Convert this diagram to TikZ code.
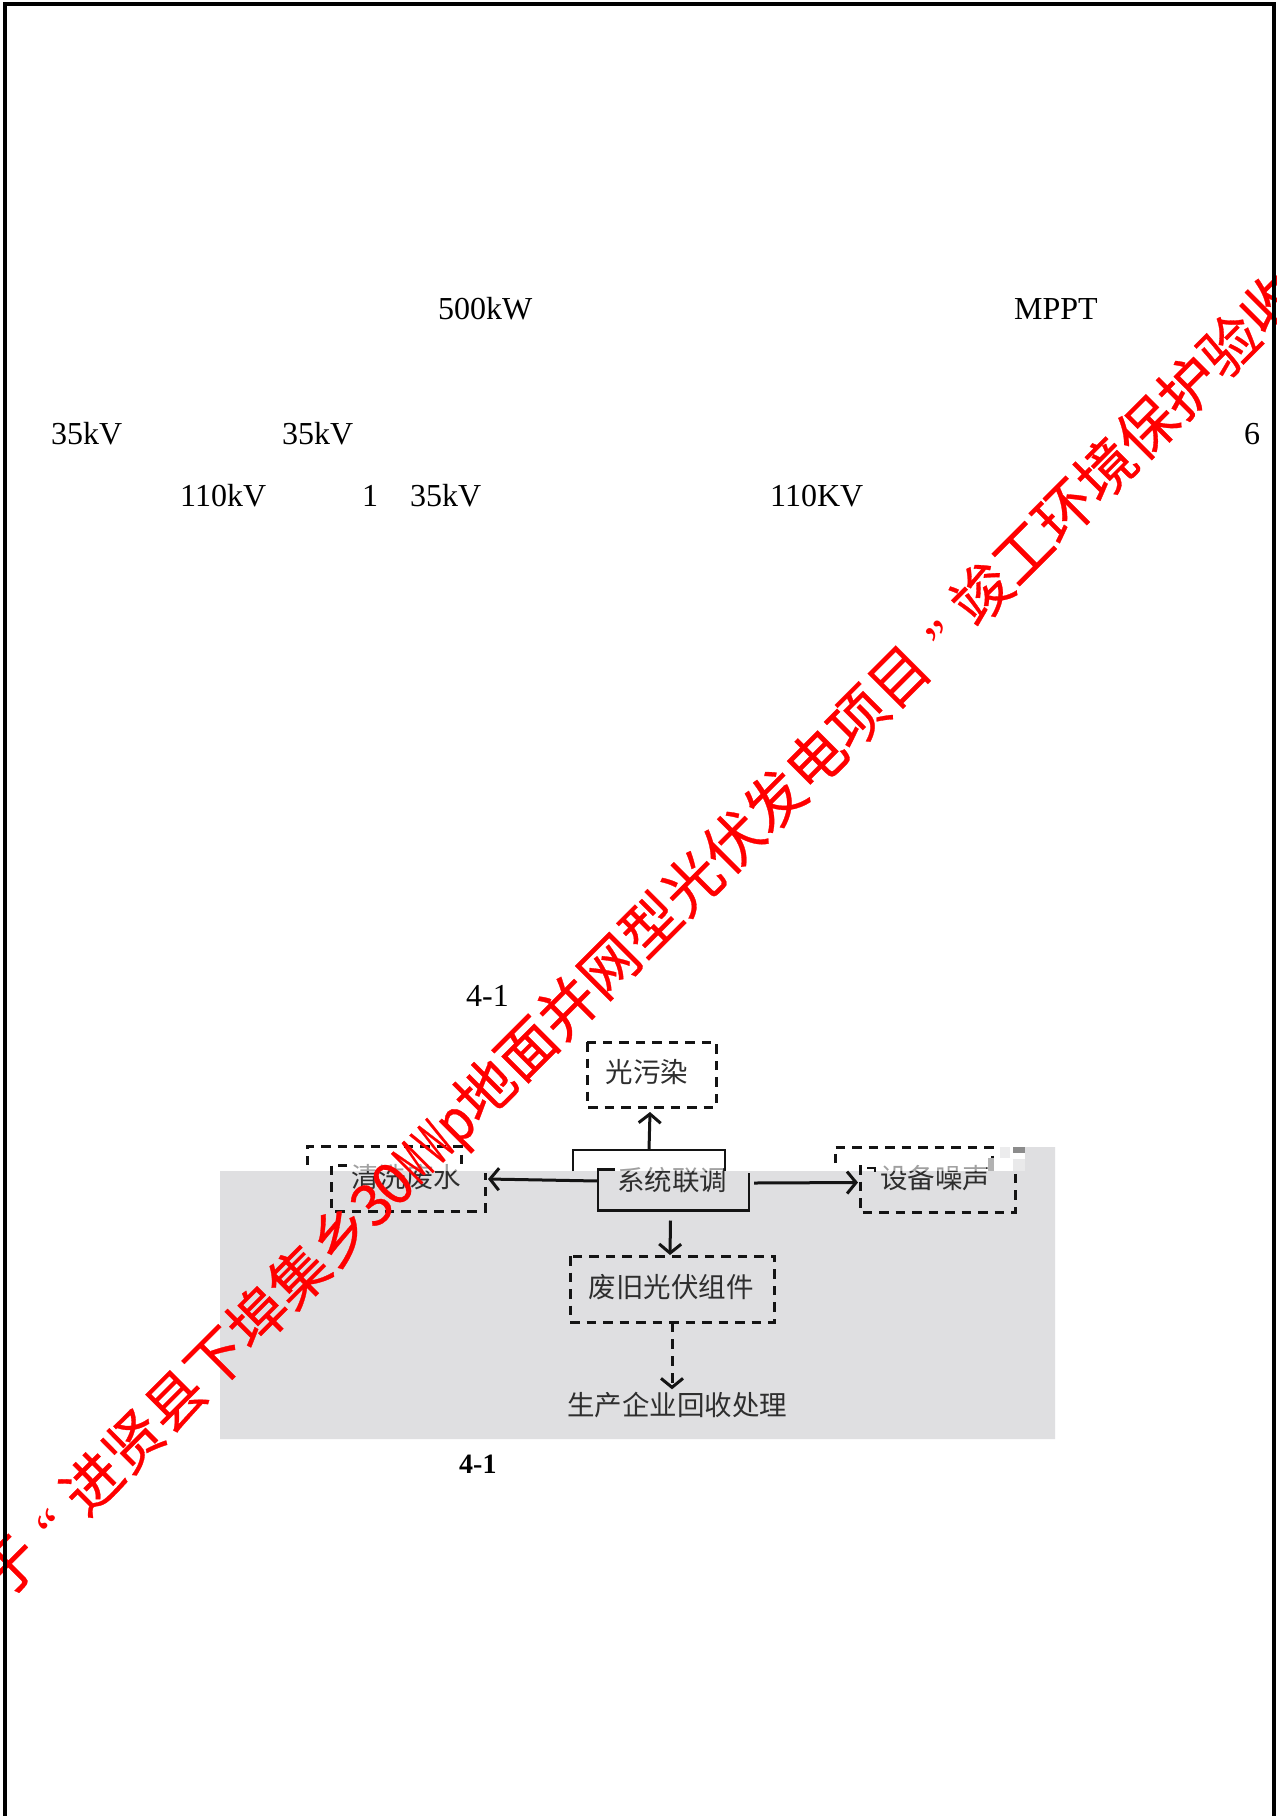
\documentclass[tikz,border=0pt]{standalone}
\usepackage{fontspec}
\setmainfont{Liberation Serif}
\newfontfamily\cjk{Noto Sans CJK SC}
\newfontfamily\cjkwm[FakeBold=0.5]{Noto Sans CJK SC}
\usetikzlibrary{arrows.meta,calc}
\definecolor{panelgray}{HTML}{DFDFE1}
\definecolor{inkgray}{HTML}{2E2E2E}
\definecolor{linkblack}{HTML}{141414}
\newcommand{\hw}[2][0.52]{\makebox[.5em][c]{\scalebox{#1}[1]{#2}}}
\newcommand{\qm}[1]{\makebox[1em][c]{\rmfamily\fontsize{52}{58}\selectfont #1}}
\tikzset{
  x=1pt,y=-1pt,
  page/.style={anchor=base west,inner sep=0pt,font=\fontsize{32}{36}\selectfont,text=black},
  capbold/.style={anchor=base west,inner sep=0pt,font=\bfseries\fontsize{28}{32}\selectfont,text=black},
  label/.style={inner sep=0pt,font=\cjk\fontsize{27.5}{30}\selectfont,text=inkgray},
  frameline/.style={line width=4.5pt,draw=black,line cap=butt,line join=miter},
  dashline/.style={line width=3pt,draw=linkblack,dash pattern=on 9.5pt off 7pt},
  solidline/.style={line width=2.8pt,draw=linkblack},
  holder/.style={inner sep=0pt,outer sep=0pt,draw=none},
  arr/.style={line width=3pt,draw=linkblack,-{Straight Barb[length=9pt,width=22pt,line width=3pt]}},
  dasharr/.style={arr,dash pattern=on 10pt off 7pt},
  wm/.style={anchor=west,inner sep=0pt,rotate=45,text=red,font=\cjkwm\fontsize{58.5}{62}\selectfont},
}
\begin{document}
\begin{tikzpicture}
\useasboundingbox (0,0) rectangle (1277,1816);
\fill[white] (0,0) rectangle (1277,1816);
% grey panel
\fill[panelgray] (220,1171) -- (1025,1171) -- (1025,1147) -- (1055,1147) -- (1055,1439) -- (220,1439) -- cycle;
\fill[panelgray!60!white] (1000,1147) rectangle (1010,1158);
\fill[black!45] (1013,1147) rectangle (1025,1153);
\fill[panelgray!70!white] (1013,1159) rectangle (1025,1171);
\fill[black!30] (988,1158) rectangle (994,1171);
% page text
\node[page] (t1) at (438,319) {500kW};
\node[page] (t2) at (1014,319) {MPPT};
\node[page] (t3) at (51,444) {35kV};
\node[page] (t4) at (282,444) {35kV};
\node[page] (t5) at (1244,444) {6};
\node[page] (t6) at (180,506) {110kV};
\node[page] (t7) at (362,506) {1};
\node[page] (t8) at (410,506) {35kV};
\node[page] (t9) at (770,506) {110KV};
\node[page] (t10) at (466,1006) {4-1};
\node[capbold] (cap) at (459,1473) {4-1};
% box holders
\node[holder,minimum width=129pt,minimum height=65pt] (light) at (651.5,1074.5) {};
\node[holder,minimum width=152pt,minimum height=21pt] (sysback) at (649,1160.5) {};
\node[holder,minimum width=151pt,minimum height=41pt] (sys) at (673.5,1190) {};
\node[holder,minimum width=154pt,minimum height=25pt] (washback) at (384,1158.5) {};
\node[holder,minimum width=154pt,minimum height=46pt] (wash) at (408,1188) {};
\node[holder,minimum width=157pt,minimum height=24pt] (noiseback) at (913.5,1159) {};
\node[holder,minimum width=155pt,minimum height=47pt] (noise) at (937.5,1188.5) {};
\node[holder,minimum width=204pt,minimum height=66pt] (waste) at (672,1289) {};
% labels
\node[label] (lightt) at (647,1072) {光污染};
\node[label] (syst) at (672,1180) {系统联调};
\node[label] (washt) at (406,1177) {清洗废水};
\node[label] (noiset) at (935,1178) {设备噪声};
\node[label] (wastet) at (671,1287) {废旧光伏组件};
\node[label,minimum width=216pt,minimum height=27pt] (recycle) at (677,1405) {生产企业回收处理};
% the tops of three labels fade out where the upper image layer covers them
\fill[white,opacity=.55] (350,1160) rectangle (459,1171);
\fill[white,opacity=.55] (616,1160) rectangle (723,1171);
\fill[white,opacity=.55] (880,1160) rectangle (986,1171);
% boxes
\draw[dashline] (light.north west) rectangle (light.south east);
\draw[dashline] (waste.north west) rectangle (waste.south east);
\draw[solidline] (sysback.south west) -- (sysback.north west) -- (sysback.north east) -- (sysback.south east);
\draw[solidline] ($(sys.north west)+(17,0)$) -- (sys.north west) -- (sys.south west) -- (sys.south east) -- ($(sys.north east)+(0,3)$);
\draw[dashline] ($(washback.south west)+(0,-6)$) -- (washback.north west) -- (washback.north east) -- (washback.south east);
\draw[dashline] ($(wash.north west)+(16,0)$) -- (wash.north west) -- (wash.south west) -- (wash.south east) -- ($(wash.north east)+(0,8)$);
\draw[dashline] ($(noiseback.south west)+(0,-8)$) -- (noiseback.north west) -- (noiseback.north east) -- ($(noiseback.south east)+(0,-13)$);
\draw[dashline] (noise.north west) -- (noise.south west) -- (noise.south east) -- ($(noise.north east)+(0,7)$);
\draw[line width=1.6pt,draw=linkblack] (867,1168) -- (875,1168) -- (875,1172);
% connectors
\draw[arr] (sysback.north) -- ($(light.south)+(-1.5,5)$);
\draw[arr] ($(sys.west)+(0,-9)$) -- ($(wash.east)+(3,-9)$);
\draw[arr] ($(sys.east)+(5,-7)$) -- ($(noise.west)+(-2,-6)$);
\draw[arr] ($(sys.south)+(-3,10)$) -- ($(waste.north)+(-2,-1)$);
\draw[dasharr] (waste.south) -- ($(recycle.north -| waste.south)+(0,-2)$);
% watermark
\begin{scope}
\clip (0,0) rectangle (1277,1816);
\node[wm] (stamp) at (-9,1589) {于\qm{“}进贤县下埠集乡\hw[1]{3}\hw[1]{0}\hw{M}\hw{W}\hw[0.85]{p}地面并网型光伏发电项目\qm{”}竣工环境保护验收};
\end{scope}
% page frame
\draw[frameline] (5,1816) -- (5,4) -- (1274,4) -- (1274,1816);
\end{tikzpicture}
\end{document}
